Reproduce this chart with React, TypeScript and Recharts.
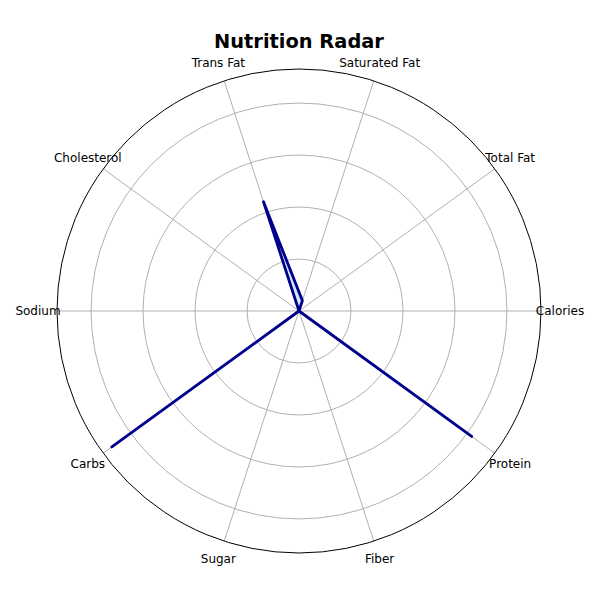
import React from "react"
import { RadarChart, Radar, PolarGrid, PolarAngleAxis, PolarRadiusAxis } from "recharts"

// nutrient categories, counter-clockwise from the east
const categories = ["Calories", "Total Fat", "Saturated Fat", "Trans Fat", "Cholesterol", "Sodium", "Carbs", "Sugar", "Fiber", "Protein"]
// scaled values
const values = [0, 0, 0.042, 0.442, 0, 0, 0.89, 0, 0, 0.821]
// radial grid rings
const ringTicks = [0.2, 0.4, 0.6, 0.8]
const radialMax = 0.931

const CX = 299
const CY = 311
const OUTER = 242
const LABEL_R = 261
const RAD = Math.PI / 180

// normalised to the outer ring so the radius axis stays at [0, 1]
const data = categories.map((name, i) => ({ idx: i, name, value: values[i] / radialMax }))
const angleTicks = categories.map((_, i) => i)

function AngleTick(props: any) {
    const { payload } = props
    const i = Number(payload.value)
    const a = (360 / categories.length) * i
    const tx = CX + Math.cos(a * RAD) * LABEL_R
    const ty = CY - Math.sin(a * RAD) * LABEL_R
    return (
        <text x={tx} y={ty} textAnchor="middle" dominantBaseline="central" fontSize={12} fill="#000" fontFamily="DejaVu Sans">
            {categories[i]}
        </text>
    )
}

export default function App() {
    const ringRadii = ringTicks.map((t) => (t / radialMax) * OUTER)
    return (
        <div style={{ position: "absolute", left: 0, top: 0, width: 600, height: 600, background: "#fff" }}>
            <RadarChart width={600} height={600} data={data} cx={CX} cy={CY} outerRadius={OUTER} startAngle={0} endAngle={360} margin={{ top: 0, right: 0, bottom: 0, left: 0 }}>
                <text x={299} y={47.5} textAnchor="middle" fontSize={19.4} fontWeight="bold" fontFamily="DejaVu Sans" fill="#000">
                    Nutrition Radar
                </text>
                <PolarGrid gridType="circle" polarRadius={ringRadii} stroke="#b0b0b0" strokeWidth={1} strokeOpacity={1} />
                <PolarGrid gridType="circle" polarRadius={[OUTER]} radialLines={false} stroke="#000" strokeWidth={1} strokeOpacity={1} />
                <PolarAngleAxis dataKey="idx" type="number" domain={[0, categories.length]} ticks={angleTicks} allowDataOverflow axisLine={false} tickLine={false} tick={<AngleTick />} />
                <PolarRadiusAxis domain={[0, 1]} allowDataOverflow tick={false} axisLine={false} />
                <Radar dataKey="value" stroke="#00008b" strokeWidth={2.8} strokeLinejoin="round" fill="#87ceeb" fillOpacity={0.4} isAnimationActive={false} dot={false} />
            </RadarChart>
        </div>
    )
}
